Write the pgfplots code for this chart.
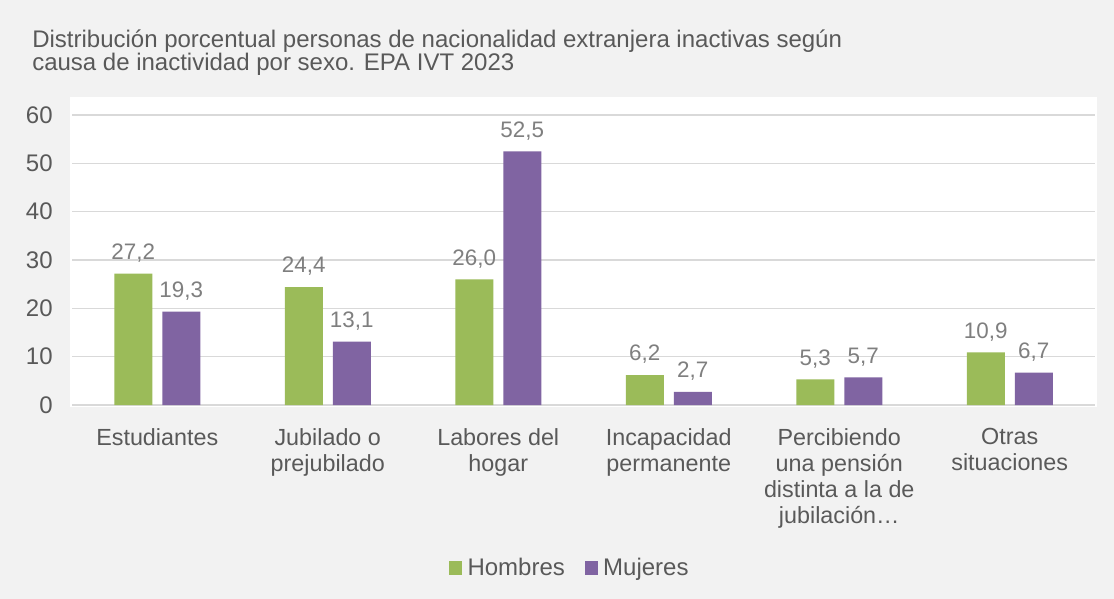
\documentclass[border=0pt]{standalone}
\usepackage{pgfplots}
\pgfplotsset{compat=1.18}
\usepackage{fontspec}
\setmainfont{Liberation Sans}
\definecolor{bg}{HTML}{F2F2F2}
\definecolor{hom}{HTML}{9BBB59}
\definecolor{muj}{HTML}{8064A2}
\definecolor{txt}{HTML}{595959}
\definecolor{lbl}{HTML}{7F7F7F}
\definecolor{gridc}{HTML}{D9D9D9}
\begin{document}
\begin{tikzpicture}[x=0.75pt,y=-0.75pt]
\fill[bg] (0,0) rectangle (1114,599);
\fill[white] (70,97) rectangle (1097,407);
\node[anchor=base west, inner sep=0, text=txt, font=\fontsize{18}{21}\selectfont] at (32,48) {Distribución porcentual personas de nacionalidad extranjera inactivas según};
\node[anchor=base west, inner sep=0, text=txt, font=\fontsize{18}{21}\selectfont] at (32,71) {causa de inactividad por sexo. EPA IVT 2023};
\coordinate (A) at (72,405);
\begin{axis}[
  at={(A)}, anchor=south west,
  scale only axis, width=767.25pt, height=217.5pt,
  ybar, bar width=28.5pt, ybar=7.5pt,
  xmin=-0.5, xmax=5.5, ymin=0, ymax=60,
  enlargelimits=false, clip=false,
  axis line style={draw=none},
  major tick length=0pt,
  ytick={0,10,...,60},
  ymajorgrids, major grid style={gridc, line width=0.9pt},
  xtick=data,
  xticklabels={Estudiantes,{Jubilado o\\prejubilado},{Labores del\\hogar},{Incapacidad\\permanente},{Percibiendo\\una pensión\\distinta a la de\\jubilación…},{Otras\\situaciones}},
  xticklabel style={align=center, text=txt, font=\fontsize{17.5}{19.5}\selectfont, yshift=-14pt},
  yticklabel style={text=txt, font=\fontsize{18}{20}\selectfont, xshift=-11pt},
  /pgf/number format/.cd, assume math mode=true, use comma, fixed, fixed zerofill, precision=1,
  /pgfplots/.cd,
  yticklabel={\pgfmathprintnumber[fixed, precision=0, fixed zerofill=false]{\tick}},
  nodes near coords,
  every node near coord/.append style={text=lbl, font=\fontsize{16.8}{19}\selectfont, yshift=5pt},
  legend style={at={(0.487,-0.562)}, anchor=center, draw=none, fill=none, legend columns=2, text=txt, font=\fontsize{18}{20}\selectfont, /tikz/every odd column/.append style={column sep=2pt}, /tikz/every even column/.append style={column sep=13pt}},
  legend image code/.code={\fill[#1] (0pt,-4.9pt) rectangle (9.75pt,4.9pt);},
]
\addplot[fill=hom, draw=none] coordinates {(0,27.2) (1,24.4) (2,26.0) (3,6.2) (4,5.3) (5,10.9)};
\addplot[fill=muj, draw=none] coordinates {(0,19.3) (1,13.1) (2,52.5) (3,2.7) (4,5.7) (5,6.7)};
\legend{Hombres, Mujeres}
\end{axis}
\end{tikzpicture}
\end{document}
